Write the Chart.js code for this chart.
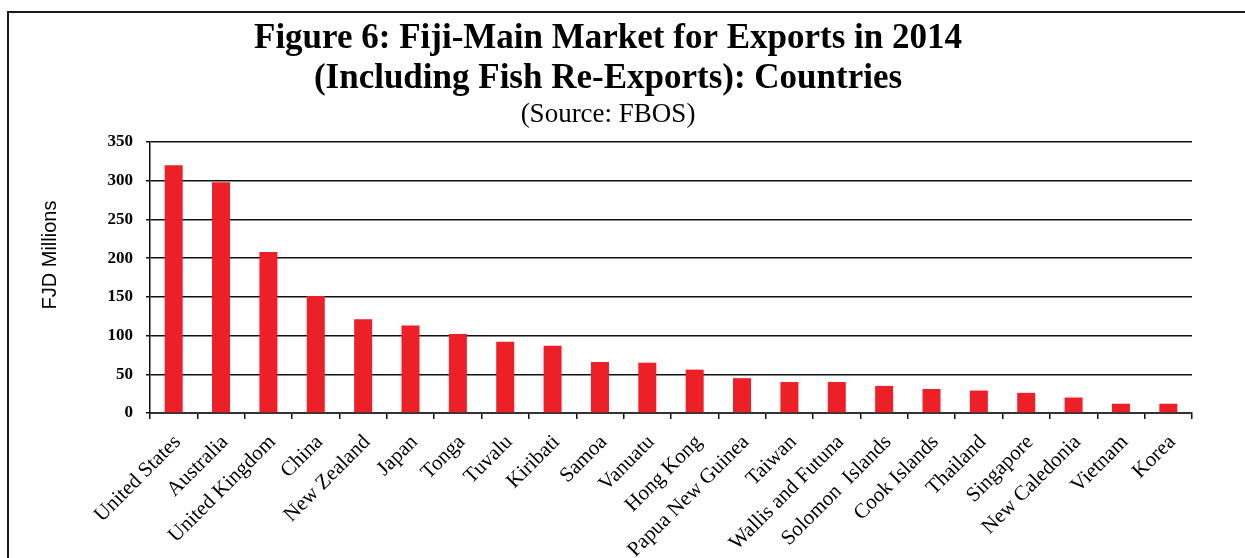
<!DOCTYPE html>
<html>
<head>
<meta charset="utf-8">
<title>Fiji exports by market, 2014</title>
<style>
  html, body { margin: 0; padding: 0; background: #ffffff; }
  #wrap { position: relative; width: 1245px; height: 558px; overflow: hidden; }
  #chart { position: absolute; left: 0; top: 0; }
  /* page frame: top and left rules */
  #frame {
    position: absolute; left: 7px; top: 11px; width: 1260px; height: 570px;
    border-top: 2px solid #1a1a1a; border-left: 2px solid #1a1a1a;
    pointer-events: none;
  }
</style>
<script src="https://cdn.jsdelivr.net/npm/chart.js@4.4.1/dist/chart.umd.min.js"></script>
</head>
<body>
<div id="wrap">
  <canvas id="chart" width="1245" height="558"></canvas>
  <div id="frame"></div>
</div>
<script>
// Export destinations, 2014 (FJD millions)
const countries = [
  'United States', 'Australia', 'United Kingdom', 'China', 'New Zealand',
  'Japan', 'Tonga', 'Tuvalu', 'Kiribati', 'Samoa', 'Vanuatu', 'Hong Kong',
  'Papua New Guinea', 'Taiwan', 'Wallis and Futuna', 'Solomon  Islands',
  'Cook Islands', 'Thailand', 'Singapore', 'New Caledonia', 'Vietnam', 'Korea'
];
const exportValues = [
  320, 298, 208, 151, 121,
  113, 102, 92, 87, 66, 65, 56,
  45, 40, 40, 35,
  31, 29, 26, 20, 12, 12
];
const yTickValues = [0, 50, 100, 150, 200, 250, 300, 350];

const titleLines = [
  'Figure 6: Fiji-Main Market for Exports in 2014',
  '(Including Fish Re-Exports): Countries'
];
const subtitleText = '(Source: FBOS)';
const yAxisTitle = 'FJD Millions';

const SERIF = '"Liberation Serif", "Times New Roman", serif';
const SANS = '"Liberation Sans", Arial, sans-serif';

// Rotated value-axis caption on the left
const yAxisCaption = {
  id: 'yAxisCaption',
  afterDraw(chart) {
    const ctx = chart.ctx;
    ctx.save();
    ctx.translate(50, 255);
    ctx.rotate(-Math.PI / 2);
    ctx.font = '20px ' + SANS;
    ctx.fillStyle = '#000';
    ctx.textAlign = 'center';
    ctx.textBaseline = 'middle';
    ctx.fillText(yAxisTitle, 0, 0);
    ctx.restore();
  }
};

new Chart(document.getElementById('chart'), {
  type: 'bar',
  data: {
    labels: countries,
    datasets: [{
      data: exportValues,
      backgroundColor: '#ED2027',
      borderWidth: 0,
      barPercentage: 0.38,
      categoryPercentage: 1.0
    }]
  },
  options: {
    responsive: false,
    animation: false,
    devicePixelRatio: 1,
    layout: { padding: { left: 24, right: 53, top: 0, bottom: 0 } },
    plugins: {
      legend: { display: false },
      tooltip: { enabled: false },
      title: {
        display: true,
        text: titleLines,
        color: '#000',
        font: { family: SERIF, size: 35, weight: 'bold', lineHeight: 40 / 35 },
        padding: { top: 19, bottom: 0 }
      },
      subtitle: {
        display: true,
        text: subtitleText,
        color: '#000',
        font: { family: SERIF, size: 27, weight: 'normal', lineHeight: 1.2 },
        padding: { top: 0, bottom: 10.6 }
      }
    },
    scales: {
      x: {
        offset: true,
        grid: {
          display: true,
          drawOnChartArea: false,
          drawTicks: true,
          tickLength: 6,
          color: '#111',
          lineWidth: 1.5,
          offset: true
        },
        border: { display: true, color: '#333', width: 2 },
        ticks: {
          autoSkip: false,
          maxRotation: 45,
          minRotation: 45,
          padding: 11,
          labelOffset: 4,
          color: '#000',
          font: { family: SERIF, size: 21 }
        },
        afterFit(scale) { scale.height = 145; }
      },
      y: {
        min: 0,
        max: 350,
        afterBuildTicks(scale) {
          scale.ticks = yTickValues.map(v => ({ value: v }));
        },
        grid: {
          color: '#111',
          lineWidth: 1.5,
          drawTicks: true,
          tickLength: 4
        },
        border: { display: true, color: '#111', width: 1.5 },
        ticks: {
          padding: 13,
          color: '#000',
          font: { family: SERIF, size: 17, weight: 'bold' }
        },
        afterFit(scale) { scale.width = 126; }
      }
    }
  },
  plugins: [yAxisCaption]
});
</script>
</body>
</html>
